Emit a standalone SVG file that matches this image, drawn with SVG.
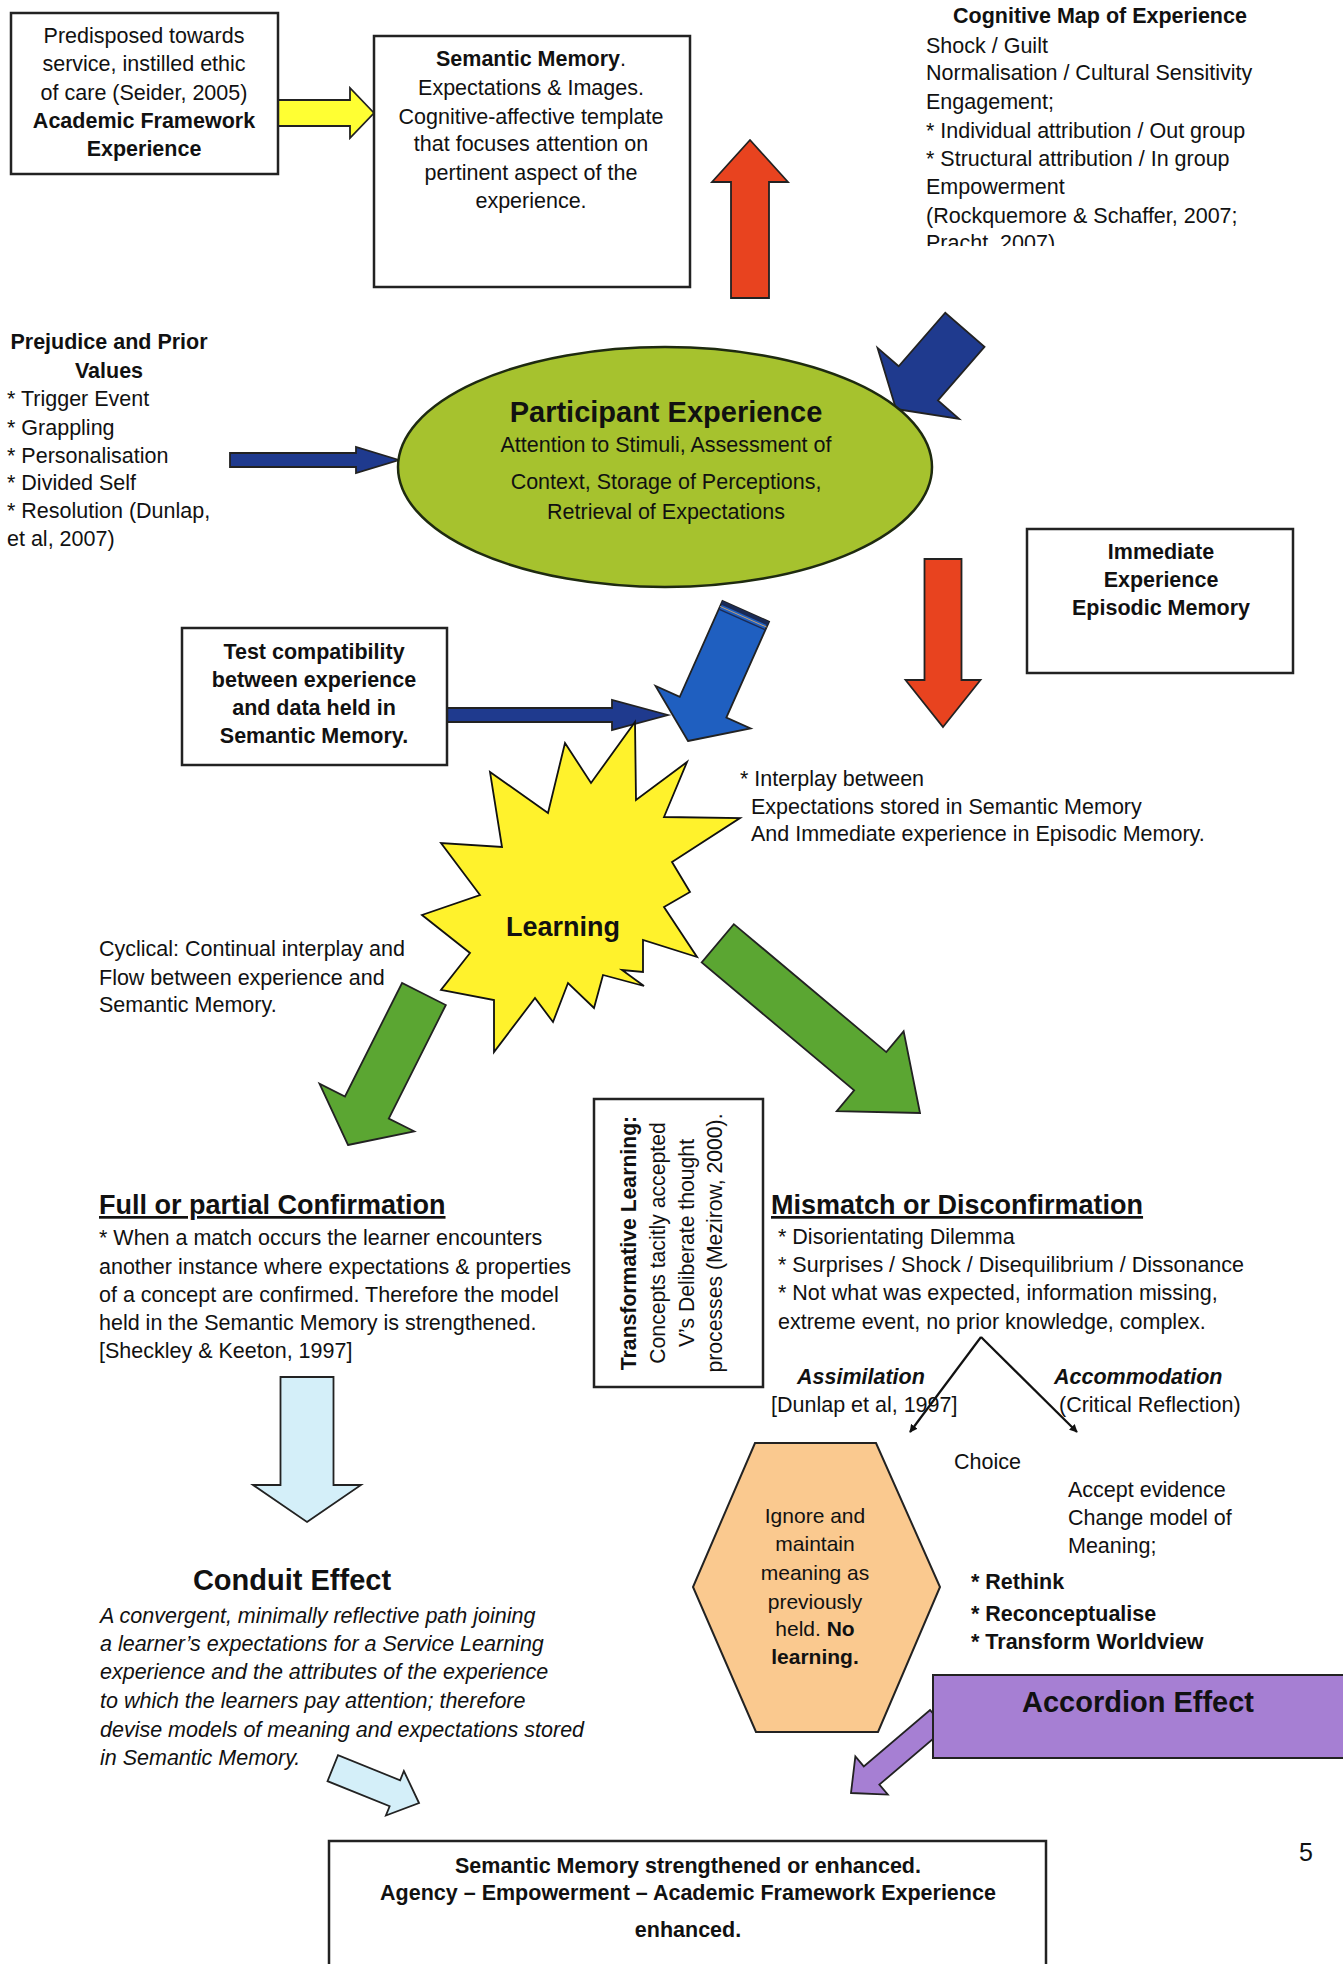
<svg xmlns="http://www.w3.org/2000/svg" width="1343" height="1964" viewBox="0 0 1343 1964">
<defs>
<style>
text{font-family:"Liberation Sans",Arial,sans-serif;fill:#111;}
.t{font-size:21.5px;}
.b{font-size:21.5px;font-weight:bold;}
.c{text-anchor:middle;}
.box{fill:#fff;stroke:#222;stroke-width:2.5;}
.arr{stroke:#222;stroke-width:1.8;stroke-linejoin:miter;}
.navy{fill:#1f3a8e;}
.red{fill:#e8431f;}
.green{fill:#5ba632;}
.lblue{fill:#d4eff9;}
</style>
<marker id="ah" viewBox="0 0 10 10" refX="9" refY="5" markerWidth="8" markerHeight="8" orient="auto" markerUnits="userSpaceOnUse">
<path d="M0,0 L10,5 L0,10 Z" fill="#111"/>
</marker>
<clipPath id="cmclip"><rect x="900" y="0" width="443" height="246"/></clipPath>
</defs>
<rect width="1343" height="1964" fill="#fff"/>

<g id="connectors">
<path class="arr" fill="#ffff33" d="M0,0 L-24,-25 L-24,-13 L-96,-13 L-96,13 L-24,13 L-24,25Z" transform="translate(374,113)"/>
<path class="arr red" d="M0,0 L-42,-38 L-42,-19 L-158,-19 L-158,19 L-42,19 L-42,38Z" transform="translate(750,140) rotate(-90)"/>
<path class="arr navy" d="M0,0 L-34,-54 L-34,-26 L-105,-26 L-105,26 L-34,26 L-34,54Z" transform="translate(896,409) rotate(131)"/>
<path class="arr navy" d="M0,0 L-43,-13 L-43,-7 L-169,-7 L-169,7 L-43,7 L-43,13Z" transform="translate(399,460)"/>
<path class="arr red" d="M0,0 L-47,-37.5 L-47,-18.5 L-168,-18.5 L-168,18.5 L-47,18.5 L-47,37.5Z" transform="translate(943,727) rotate(90)"/>
<path class="arr navy" d="M0,0 L-56,-15 L-56,-7 L-221,-7 L-221,7 L-56,7 L-56,15Z" transform="translate(668,715)"/>
<g transform="translate(688,741) rotate(114)">
<path class="arr" fill="#1f5fc0" d="M0,0 L-37,-52 L-37,-25.5 L-142,-25.5 L-142,25.5 L-37,25.5 L-37,52Z"/>
<rect x="-142" y="-25.5" width="4" height="51" fill="#1a2a55"/>
<line x1="-133" y1="-25.5" x2="-133" y2="25.5" stroke="#1a2a55" stroke-width="1.5"/>
<line x1="-136" y1="-25.5" x2="-136" y2="25.5" stroke="#c9a070" stroke-width="1"/>
</g>
<path class="arr green" d="M0,0 L-42,-53 L-42,-24.5 L-169,-24.5 L-169,24.5 L-42,24.5 L-42,53Z" transform="translate(348,1145) rotate(116.7)"/>
<path class="arr green" d="M0,0 L-65,-52 L-65,-25 L-264,-25 L-264,25 L-65,25 L-65,52Z" transform="translate(920,1113) rotate(40)"/>
<path class="arr lblue" d="M0,0 L-37,-54 L-37,-26.5 L-145,-26.5 L-145,26.5 L-37,26.5 L-37,54Z" transform="translate(307,1522) rotate(90)"/>
<path class="arr lblue" d="M0,0 L-26,-24 L-26,-14 L-93,-14 L-93,14 L-26,14 L-26,24Z" transform="translate(419,1803) rotate(22)"/>
<path class="arr" fill="#a67fd3" d="M0,0 L-27,-25 L-27,-12 L-114,-12 L-114,12 L-27,12 L-27,25Z" transform="translate(851,1793) rotate(139.6)"/>
<line x1="981" y1="1337" x2="910" y2="1432" stroke="#111" stroke-width="2.2" marker-end="url(#ah)"/>
<line x1="981" y1="1337" x2="1077" y2="1432" stroke="#111" stroke-width="2.2" marker-end="url(#ah)"/>
</g>

<g id="predisposed">
<rect class="box" x="11" y="13" width="267" height="161"/>
<text class="t c" x="144" y="43">Predisposed towards</text>
<text class="t c" x="144" y="71">service, instilled ethic</text>
<text class="t c" x="144" y="100">of care (Seider, 2005)</text>
<text class="b c" x="144" y="128">Academic Framework</text>
<text class="b c" x="144" y="156">Experience</text>
</g>

<g id="semantic-memory">
<rect class="box" x="374" y="36" width="316" height="251"/>
<text class="t c" x="531" y="66"><tspan font-weight="bold">Semantic Memory</tspan>.</text>
<text class="t c" x="531" y="95">Expectations &amp; Images.</text>
<text class="t c" x="531" y="124">Cognitive-affective template</text>
<text class="t c" x="531" y="151">that focuses attention on</text>
<text class="t c" x="531" y="180">pertinent aspect of the</text>
<text class="t c" x="531" y="208">experience.</text>
</g>

<g id="cognitive-map" clip-path="url(#cmclip)">
<text class="b" x="953" y="23">Cognitive Map of Experience</text>
<text class="t" x="926" y="53">Shock / Guilt</text>
<text class="t" x="926" y="80">Normalisation / Cultural Sensitivity</text>
<text class="t" x="926" y="109">Engagement;</text>
<text class="t" x="926" y="138">* Individual attribution / Out group</text>
<text class="t" x="926" y="166">* Structural attribution / In group</text>
<text class="t" x="926" y="194">Empowerment</text>
<text class="t" x="926" y="223">(Rockquemore &amp; Schaffer, 2007;</text>
<text class="t" x="926" y="250">Pracht, 2007)</text>
</g>

<g id="prejudice">
<text class="b c" x="109" y="349">Prejudice and Prior</text>
<text class="b c" x="109" y="378">Values</text>
<text class="t" x="7" y="406">* Trigger Event</text>
<text class="t" x="7" y="435">* Grappling</text>
<text class="t" x="7" y="463">* Personalisation</text>
<text class="t" x="7" y="490">* Divided Self</text>
<text class="t" x="7" y="518">* Resolution (Dunlap,</text>
<text class="t" x="7" y="546">et al, 2007)</text>
</g>

<g id="participant-experience">
<ellipse cx="665" cy="467" rx="267" ry="120" fill="#a6c22e" stroke="#1e2a10" stroke-width="2.5"/>
<text class="c" x="666" y="422" font-size="29" font-weight="bold" fill="#1a2410">Participant Experience</text>
<text class="t c" x="666" y="452" fill="#1a2410">Attention to Stimuli, Assessment of</text>
<text class="t c" x="666" y="489" fill="#1a2410">Context,  Storage of Perceptions,</text>
<text class="t c" x="666" y="519" fill="#1a2410">Retrieval of Expectations</text>
</g>

<g id="immediate-experience">
<rect class="box" x="1027" y="529" width="266" height="144"/>
<text class="b c" x="1161" y="559">Immediate</text>
<text class="b c" x="1161" y="587">Experience</text>
<text class="b c" x="1161" y="615">Episodic Memory</text>
</g>

<g id="test-compatibility">
<rect class="box" x="182" y="628" width="265" height="137"/>
<text class="b c" x="314" y="659">Test compatibility</text>
<text class="b c" x="314" y="687">between experience</text>
<text class="b c" x="314" y="715">and data held in</text>
<text class="b c" x="314" y="743">Semantic Memory.</text>
</g>

<g id="learning">
<polygon points="635,722 636,800 687,762 664,817 740,818 672,862 690,892 664,907 697,957 643,940 643,972 622,970 644,986 603,975 594,1008 568,983 553,1022 535,998 494,1052 494,1000 441,990 470,953 422,915 480,895 441,843 502,847 490,772 548,813 565,743 591,783" fill="#fff22c" stroke="#111" stroke-width="1.8" stroke-linejoin="miter"/>
<text class="c" x="563" y="936" font-size="27" font-weight="bold">Learning</text>
</g>

<g id="interplay">
<text class="t" x="740" y="786">* Interplay between</text>
<text class="t" x="751" y="814">Expectations stored in Semantic Memory</text>
<text class="t" x="751" y="841">And Immediate experience in Episodic Memory.</text>
</g>

<g id="cyclical">
<text class="t" x="99" y="956">Cyclical: Continual interplay and</text>
<text class="t" x="99" y="985">Flow between experience and</text>
<text class="t" x="99" y="1012">Semantic Memory.</text>
</g>

<g id="transformative-learning">
<rect class="box" x="594" y="1099" width="169" height="288"/>
<g transform="translate(0,1243) rotate(-90)">
<text class="c" x="0" y="636" font-size="21.2" font-weight="bold">Transformative Learning:</text>
<text class="c" x="0" y="665" font-size="21.2">Concepts tacitly accepted</text>
<text class="c" x="0" y="694" font-size="21.2">V’s Deliberate thought</text>
<text class="c" x="0" y="722" font-size="21.2">processes (Mezirow, 2000).</text>
</g>
</g>

<g id="confirmation">
<text x="99" y="1214" font-size="27" font-weight="bold" text-decoration="underline">Full or partial Confirmation</text>
<text class="t" x="99" y="1245">* When a match occurs the learner encounters</text>
<text class="t" x="99" y="1274">another instance where expectations &amp; properties</text>
<text class="t" x="99" y="1302">of a concept are confirmed. Therefore the model</text>
<text class="t" x="99" y="1330">held in the Semantic Memory is strengthened.</text>
<text class="t" x="99" y="1358">[Sheckley &amp; Keeton, 1997]</text>
</g>

<g id="mismatch">
<text x="771" y="1214" font-size="27" font-weight="bold" text-decoration="underline">Mismatch or Disconfirmation</text>
<text class="t" x="778" y="1244">* Disorientating Dilemma</text>
<text class="t" x="778" y="1272">* Surprises / Shock / Disequilibrium / Dissonance</text>
<text class="t" x="778" y="1300">* Not what was expected, information missing,</text>
<text class="t" x="778" y="1329">extreme event, no prior knowledge, complex.</text>
</g>

<g id="assimilation">
<text x="797" y="1384" font-size="21.5" font-weight="bold" font-style="italic">Assimilation</text>
<text class="t" x="771" y="1412">[Dunlap et al, 1997]</text>
</g>

<g id="accommodation">
<text x="1054" y="1384" font-size="21.5" font-weight="bold" font-style="italic">Accommodation</text>
<text class="t" x="1059" y="1412">(Critical Reflection)</text>
</g>

<g id="choice">
<text class="t" x="954" y="1469">Choice</text>
<text class="t" x="1068" y="1497">Accept evidence</text>
<text class="t" x="1068" y="1525">Change model of</text>
<text class="t" x="1068" y="1553">Meaning;</text>
<text class="b" x="971" y="1589">* Rethink</text>
<text class="b" x="971" y="1621">* Reconceptualise</text>
<text class="b" x="971" y="1649">* Transform Worldview</text>
</g>

<g id="no-learning">
<polygon points="755,1443 876,1443 940,1587 878,1732 756,1732 693,1587" fill="#fac98f" stroke="#222" stroke-width="2"/>
<text class="c" x="815" y="1523" font-size="21">Ignore and</text>
<text class="c" x="815" y="1551" font-size="21">maintain</text>
<text class="c" x="815" y="1580" font-size="21">meaning as</text>
<text class="c" x="815" y="1609" font-size="21">previously</text>
<text class="c" x="815" y="1636" font-size="21">held. <tspan font-weight="bold">No</tspan></text>
<text class="c" x="815" y="1664" font-size="21" font-weight="bold">learning.</text>
</g>

<g id="conduit-effect">
<text class="c" x="292" y="1590" font-size="29" font-weight="bold">Conduit Effect</text>
<text class="t" x="100" y="1623" font-style="italic">A convergent, minimally reflective path joining</text>
<text class="t" x="100" y="1651" font-style="italic">a learner’s expectations for a Service Learning</text>
<text class="t" x="100" y="1679" font-style="italic">experience and the attributes of the experience</text>
<text class="t" x="100" y="1708" font-style="italic">to which the learners pay attention; therefore</text>
<text class="t" x="100" y="1737" font-style="italic">devise models of meaning and expectations stored</text>
<text class="t" x="100" y="1765" font-style="italic">in Semantic Memory.</text>
</g>

<g id="accordion-effect">
<rect x="933" y="1675" width="412" height="83" fill="#a67fd3" stroke="#222" stroke-width="2"/>
<text class="c" x="1138" y="1712" font-size="29" font-weight="bold">Accordion Effect</text>
</g>

<g id="outcome">
<rect class="box" x="329" y="1841" width="717" height="140"/>
<text class="b c" x="688" y="1873">Semantic Memory strengthened or enhanced.</text>
<text class="b c" x="688" y="1900">Agency – Empowerment – Academic Framework Experience</text>
<text class="b c" x="688" y="1937">enhanced.</text>
</g>

<text x="1306" y="1861" font-family="'Open Sans',sans-serif" font-size="25" text-anchor="middle">5</text>
</svg>
